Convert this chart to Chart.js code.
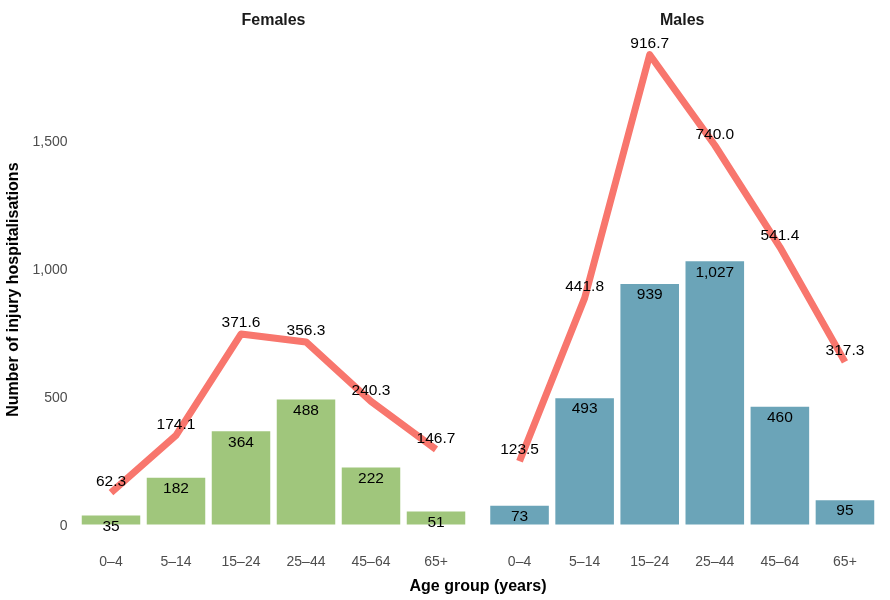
<!DOCTYPE html>
<html>
<head>
<meta charset="utf-8">
<script src="https://cdn.jsdelivr.net/npm/chart.js@4.4.1/dist/chart.umd.min.js"></script>
<style>
  html, body { margin: 0; padding: 0; background: #fff; }
  #wrap { position: relative; width: 890px; height: 600px; }
  #wrap canvas { position: absolute; left: 0; top: 0; }
</style>
</head>
<body>
<div id="wrap">
  <canvas id="females" width="890" height="600"></canvas>
  <canvas id="males" width="890" height="600"></canvas>
</div>
<script>
const ageGroups = ['0–4', '5–14', '15–24', '25–44', '45–64', '65+']
const femaleCounts = [35, 182, 364, 488, 222, 51]
const femaleRates = [62.3, 174.1, 371.6, 356.3, 240.3, 146.7]
const maleCounts = [73, 493, 939, 1027, 460, 95]
const maleRates = [123.5, 441.8, 916.7, 740.0, 541.4, 317.3]
const yTicks = [0, 500, 1000, 1500]

// count axis and rate axis share the panel, rate axis is half the count axis
const yMin = -91.67
const yMax = 1925.07

const FONT = '"Liberation Sans", Arial, sans-serif'
const lineColor = '#F8766D'

const valueLabels = {
    id: 'valueLabels',
    afterDatasetsDraw(chart) {
        const ctx = chart.ctx
        ctx.save()
        ctx.font = '15.5px ' + FONT
        ctx.fillStyle = '#000'
        ctx.textAlign = 'center'
        ctx.textBaseline = 'middle'
        chart.data.datasets.forEach((ds, i) => {
            const meta = chart.getDatasetMeta(i)
            meta.data.forEach((el, j) => {
                const v = ds.data[j]
                if (ds.type === 'line') {
                    ctx.fillText(v.toFixed(1), el.x, el.y - 11)
                } else {
                    ctx.fillText(v.toLocaleString('en-US'), el.x, el.y + 11)
                }
            })
        })
        ctx.restore()
    }
}

const xTitle = {
    id: 'xTitle',
    afterDraw(chart) {
        const ctx = chart.ctx
        ctx.save()
        ctx.font = 'bold 16px ' + FONT
        ctx.fillStyle = '#000'
        ctx.textAlign = 'center'
        ctx.textBaseline = 'middle'
        ctx.fillText('Age group (years)', 478, 587)
        ctx.restore()
    }
}

function makePanel(canvasId, title, counts, rates, barColor, left, right, showY) {
    return new Chart(document.getElementById(canvasId), {
        data: {
            labels: ageGroups,
            datasets: [
                {
                    type: 'line',
                    label: 'Rate',
                    data: rates,
                    yAxisID: 'y2',
                    borderColor: lineColor,
                    borderWidth: 7,
                    borderJoinStyle: 'round',
                    pointRadius: 0,
                    tension: 0,
                    order: 0
                },
                {
                    type: 'bar',
                    label: 'Count',
                    data: counts,
                    yAxisID: 'y',
                    backgroundColor: barColor,
                    barPercentage: 0.9,
                    categoryPercentage: 1,
                    order: 1
                }
            ]
        },
        options: {
            responsive: false,
            animation: false,
            events: [],
            layout: {
                padding: { left: showY ? 0 : left, right: 890 - right, top: 0, bottom: 30 }
            },
            plugins: {
                legend: { display: false },
                tooltip: { enabled: false },
                title: {
                    display: true,
                    text: title,
                    fullSize: false,
                    color: '#1a1a1a',
                    font: { family: FONT, size: 16, weight: 'bold' },
                    padding: { top: 11, bottom: 1 }
                }
            },
            scales: {
                x: {
                    grid: { display: false, drawTicks: false },
                    border: { display: false },
                    ticks: {
                        color: '#4D4D4D',
                        font: { family: FONT, size: 14 },
                        padding: 6
                    },
                    afterFit: (scale) => { scale.height = 22 }
                },
                y: {
                    display: showY,
                    min: yMin,
                    max: yMax,
                    grid: { display: false, drawTicks: false },
                    border: { display: false },
                    afterBuildTicks: (scale) => {
                        scale.ticks = yTicks.map(v => ({ value: v }))
                    },
                    ticks: {
                        color: '#4D4D4D',
                        font: { family: FONT, size: 14 },
                        padding: 11,
                        labelOffset: 2,
                        callback: (v) => v.toLocaleString('en-US')
                    },
                    title: {
                        display: true,
                        text: 'Number of injury hospitalisations',
                        color: '#000',
                        font: { family: FONT, size: 16, weight: 'bold' },
                        padding: { top: 4, bottom: 0 }
                    },
                    afterFit: (scale) => { scale.width = showY ? left : 0 }
                },
                y2: {
                    display: false,
                    min: yMin / 2,
                    max: yMax / 2
                }
            }
        },
        plugins: showY ? [valueLabels, xTitle] : [valueLabels]
    })
}

makePanel('females', 'Females', femaleCounts, femaleRates, '#A0C67C', 78.5, 468.5, true)
makePanel('males', 'Males', maleCounts, maleRates, '#6BA4B8', 487, 877.5, false)
</script>
</body>
</html>
